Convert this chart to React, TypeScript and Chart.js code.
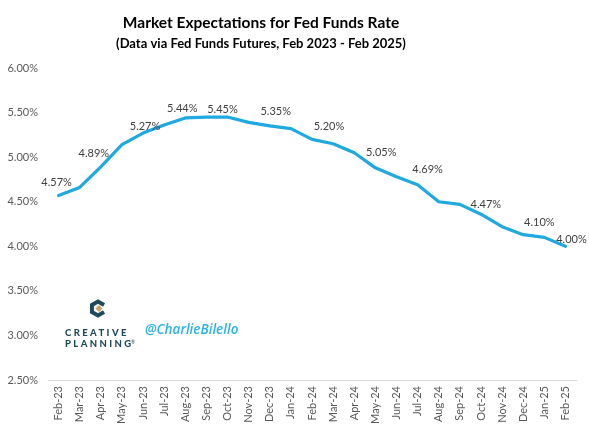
import React, { useEffect, useRef } from "react";
import { Chart, registerables } from "chart.js";

Chart.register(...registerables);

const TITLE = "Market Expectations for Fed Funds Rate";
const SUBTITLE = "(Data via Fed Funds Futures, Feb 2023 - Feb 2025)";

const months = [
  "Feb-23", "Mar-23", "Apr-23", "May-23", "Jun-23", "Jul-23", "Aug-23", "Sep-23",
  "Oct-23", "Nov-23", "Dec-23", "Jan-24", "Feb-24", "Mar-24", "Apr-24", "May-24",
  "Jun-24", "Jul-24", "Aug-24", "Sep-24", "Oct-24", "Nov-24", "Dec-24", "Jan-25", "Feb-25",
];

const expectedRate = [
  4.57, 4.66, 4.89, 5.14, 5.27, 5.36, 5.44, 5.45, 5.45, 5.39, 5.35, 5.32, 5.20,
  5.15, 5.05, 4.88, 4.78, 4.69, 4.50, 4.47, 4.36, 4.22, 4.13, 4.10, 4.00,
];

const yTicks = [2.5, 3.0, 3.5, 4.0, 4.5, 5.0, 5.5, 6.0];

// which points carry a data label
const labelledPoints = [0, 2, 4, 6, 8, 10, 12, 14, 17, 19, 23, 24];
// label nudge relative to the point (pixels)
const labelNudgeX = [-2, -7, 2, -3, -5, 6, 17, 27, 10, 26, -5, 6];
const labelNudgeY = [-13, -13, -7, -9, -8, -14, -13, 0, -15, 0, -15, -7];

const FONT = "Lato, 'Open Sans', sans-serif";

const overlayPlugin = {
  id: "overlay",
  afterDatasetsDraw(chart: any) {
    const ctx = chart.ctx;
    const meta = chart.getDatasetMeta(0);
    ctx.save();
    ctx.font = `11px ${FONT}`;
    ctx.fillStyle = "#404040";
    ctx.textAlign = "center";
    ctx.textBaseline = "middle";
    labelledPoints.forEach((idx, k) => {
      const pt = meta.data[idx];
      const v = expectedRate[idx];
      ctx.fillText(v.toFixed(2) + "%", pt.x + labelNudgeX[k], pt.y + labelNudgeY[k]);
    });
    ctx.restore();
  },
  afterDraw(chart: any) {
    const ctx = chart.ctx;
    ctx.save();
    // titles
    ctx.fillStyle = "#000";
    ctx.textAlign = "center";
    ctx.textBaseline = "middle";
    ctx.font = `bold 15.5px ${FONT}`;
    ctx.fillText(TITLE, 261, 23);
    ctx.font = `bold 13px ${FONT}`;
    ctx.fillText(SUBTITLE, 261, 44);

    // logo icon
    const cx = 98, cy = 308.5, r = 7;
    const pt = (deg: number) => [cx + r * Math.cos((deg * Math.PI) / 180), cy + r * Math.sin((deg * Math.PI) / 180)];
    ctx.strokeStyle = "#1f4a5c";
    ctx.lineWidth = 4;
    ctx.lineJoin = "miter";
    ctx.beginPath();
    const path = [-30, -90, -150, 150, 90, 30];
    path.forEach((d, i) => {
      const [x, y] = pt(d);
      if (i === 0) ctx.moveTo(x, y);
      else ctx.lineTo(x, y);
    });
    ctx.stroke();
    ctx.fillStyle = "#c8a26a";
    ctx.beginPath();
    ctx.moveTo(cx + 1, cy - 3.5);
    ctx.lineTo(cx + 4.5, cy);
    ctx.lineTo(cx + 1, cy + 3.5);
    ctx.lineTo(cx - 2.5, cy);
    ctx.closePath();
    ctx.fill();

    // logo text
    ctx.fillStyle = "#1f4a5c";
    ctx.textAlign = "left";
    ctx.font = `900 9.5px ${FONT}`;
    (ctx as any).letterSpacing = "2.4px";
    ctx.fillText("CREATIVE", 65, 332.5);
    ctx.fillText("PLANNING", 65, 343.5);
    (ctx as any).letterSpacing = "0px";
    ctx.font = `5px ${FONT}`;
    ctx.fillText("®", 131, 342);

    // handle
    ctx.fillStyle = "#2bb3e6";
    ctx.font = `italic 600 13.5px 'Open Sans', sans-serif`;
    ctx.fillText("@CharlieBilello", 145, 330.5);
    ctx.restore();
  },
};

export default function App() {
  const ref = useRef<HTMLCanvasElement | null>(null);

  useEffect(() => {
    document.body.style.margin = "0";
    const canvas = ref.current;
    if (!canvas) return;
    const chart = new Chart(canvas, {
      type: "line",
      data: {
        labels: months,
        datasets: [
          {
            data: expectedRate,
            borderColor: "#1fa9e1",
            backgroundColor: "#1fa9e1",
            borderWidth: 3.2,
            pointRadius: 0,
            tension: 0,
            borderJoinStyle: "round",
            borderCapStyle: "round",
          },
        ],
      },
      options: {
        animation: false,
        responsive: false,
        devicePixelRatio: 1,
        layout: { padding: { top: 68, right: 13, bottom: 0, left: 0 } },
        plugins: {
          legend: { display: false },
          title: { display: false },
          tooltip: { enabled: false },
        },
        scales: {
          x: {
            offset: true,
            grid: { display: false, drawTicks: false },
            border: { display: true, color: "#d9d9d9", width: 1 },
            ticks: {
              minRotation: 90,
              maxRotation: 90,
              autoSkip: false,
              padding: 6,
              color: "#595959",
              font: { family: FONT, size: 11 },
            },
            afterFit(scale: any) {
              scale.height = 53;
            },
          },
          y: {
            min: yTicks[0],
            max: yTicks[yTicks.length - 1],
            afterBuildTicks(scale: any) {
              scale.ticks = yTicks.map((v) => ({ value: v }));
            },
            grid: { display: false, drawTicks: false },
            border: { display: false },
            ticks: {
              padding: 10,
              color: "#595959",
              font: { family: FONT, size: 11 },
              callback: (v: any) => Number(v).toFixed(2) + "%",
            },
            afterFit(scale: any) {
              scale.width = 48;
            },
          },
        },
      },
      plugins: [overlayPlugin],
    });
    return () => chart.destroy();
  }, []);

  return (
    <div style={{ width: 589, height: 433, background: "#fff" }}>
      <canvas ref={ref} width={589} height={433} style={{ display: "block" }} />
    </div>
  );
}
